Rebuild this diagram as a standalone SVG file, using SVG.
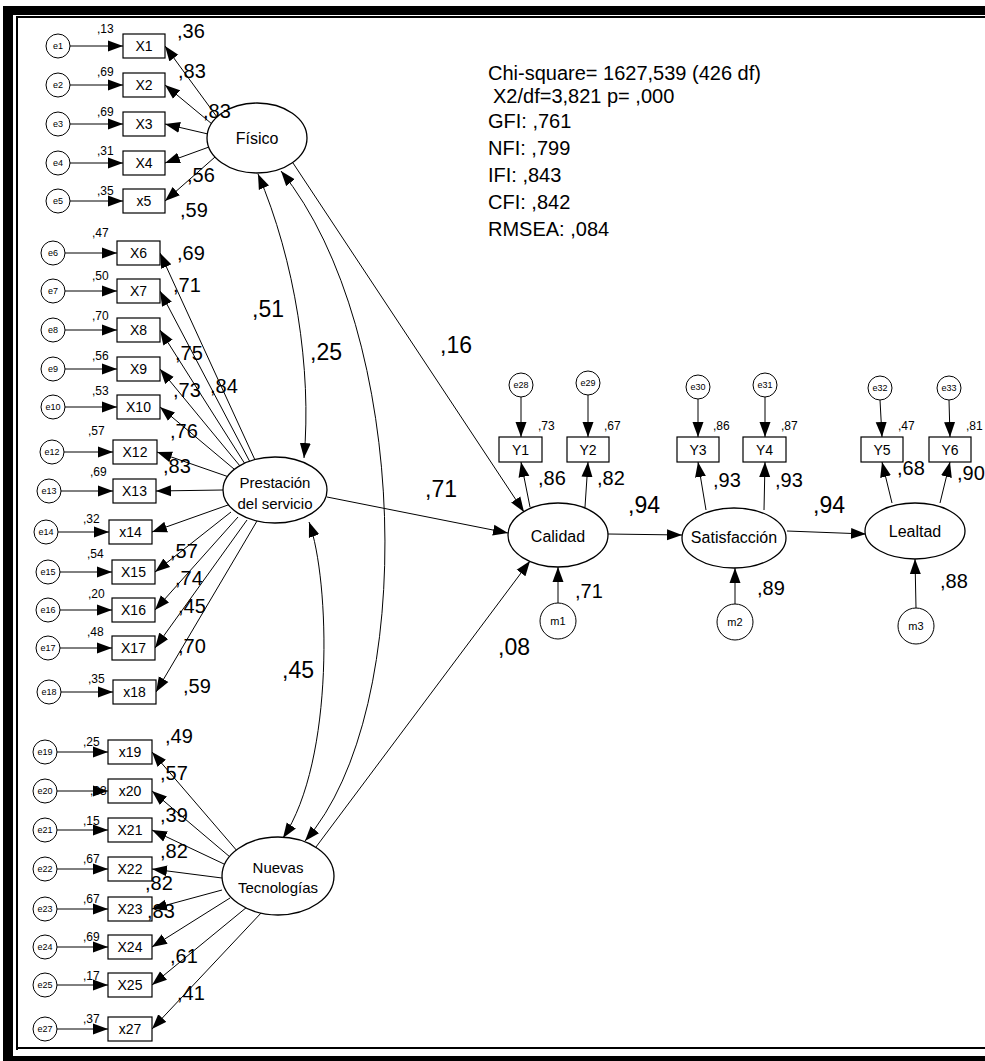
<svg xmlns="http://www.w3.org/2000/svg" width="985" height="1061" viewBox="0 0 985 1061">
<defs>
<style>
text{font-family:"Liberation Sans",Arial,sans-serif;fill:#000}
.e{fill:#fff;stroke:#000;stroke-width:1}
.box{fill:#fff;stroke:#000;stroke-width:1.2}
.lat{fill:#fff;stroke:#000;stroke-width:1.3}
.et{font-size:9px;text-anchor:middle}
.bt{font-size:14px;text-anchor:middle}
.lt{font-size:16px;text-anchor:middle}
.lt2{font-size:15px;text-anchor:middle}
.mt{font-size:11px;text-anchor:middle}
.sm{font-size:12px}
.lg{font-size:20px}
.xl{font-size:23px}
.fit{font-size:20px}
.ln{fill:none;stroke:#000;stroke-width:1;marker-end:url(#ah)}
.cv{fill:none;stroke:#000;stroke-width:1;marker-end:url(#ah);marker-start:url(#ahs)}
</style>
<marker id="ah" markerUnits="userSpaceOnUse" markerWidth="15" markerHeight="12" refX="15" refY="6" orient="auto">
<path d="M0,0.5 L15,6 L0,11.5 z" fill="#000"/>
</marker>
<marker id="ahs" markerUnits="userSpaceOnUse" markerWidth="15" markerHeight="12" refX="15" refY="6" orient="auto-start-reverse">
<path d="M0,0.5 L15,6 L0,11.5 z" fill="#000"/>
</marker>
</defs>
<rect width="985" height="1061" fill="#fff"/>
<!-- frame -->
<g id="frame" fill="#000">
<rect x="3" y="6" width="982" height="9"/>
<rect x="3" y="6" width="10" height="1055"/>
<rect x="3" y="1056" width="982" height="5"/>
<rect x="16" y="16" width="969" height="2"/>
<rect x="16" y="16" width="2" height="1034"/>
<rect x="16" y="1047" width="969" height="2"/>
</g>

<!-- connectors -->
<g id="connectors">
<!-- error terms to indicators -->
<path class="ln" d="M70,46 H123"/>
<path class="ln" d="M70,85 H123"/>
<path class="ln" d="M70,124 H123"/>
<path class="ln" d="M70,163 H123"/>
<path class="ln" d="M70,201 H123"/>
<path class="ln" d="M65,253 H117"/>
<path class="ln" d="M65,291 H117"/>
<path class="ln" d="M65,330 H117"/>
<path class="ln" d="M65,369 H117"/>
<path class="ln" d="M65,407 H117"/>
<path class="ln" d="M64,452 H113"/>
<path class="ln" d="M61,491 H113"/>
<path class="ln" d="M58,532 H109"/>
<path class="ln" d="M60,572 H112"/>
<path class="ln" d="M60,610 H112"/>
<path class="ln" d="M60,648 H112"/>
<path class="ln" d="M61,692 H113"/>
<path class="ln" d="M57,752 H108"/>
<path class="ln" d="M57,791 H108"/>
<path class="ln" d="M57,830 H108"/>
<path class="ln" d="M57,869 H108"/>
<path class="ln" d="M57,909 H108"/>
<path class="ln" d="M57,947 H108"/>
<path class="ln" d="M57,985 H108"/>
<path class="ln" d="M57,1029 H108"/>
<!-- Físico loadings -->
<path class="ln" d="M217,117 L165,46"/>
<path class="ln" d="M212,124 L165,85"/>
<path class="ln" d="M208,134 L165,124"/>
<path class="ln" d="M209,147 L165,163"/>
<path class="ln" d="M215,157 L165,201"/>
<!-- Prestación loadings -->
<path class="ln" d="M255,460 L160,253"/>
<path class="ln" d="M250,462 L160,291"/>
<path class="ln" d="M245,464 L160,330"/>
<path class="ln" d="M240,466 L160,369"/>
<path class="ln" d="M234,469 L160,407"/>
<path class="ln" d="M229,477 L157,452"/>
<path class="ln" d="M223,490 L156,491"/>
<path class="ln" d="M228,505 L152,532"/>
<path class="ln" d="M231,512 L155,572"/>
<path class="ln" d="M238,517 L155,610"/>
<path class="ln" d="M247,520 L155,648"/>
<path class="ln" d="M257,521 L156,692"/>
<!-- Nuevas Tecnologías loadings -->
<path class="ln" d="M238,852 L152,752"/>
<path class="ln" d="M230,857 L152,791"/>
<path class="ln" d="M224,864 L152,830"/>
<path class="ln" d="M222,878 L152,869"/>
<path class="ln" d="M222,890 L152,909"/>
<path class="ln" d="M230,898 L152,947"/>
<path class="ln" d="M247,907 L152,985"/>
<path class="ln" d="M262,912 L152,1029"/>
<!-- covariances -->
<path class="cv" d="M258,174 C295,260 312,370 304,458"/>
<path class="cv" d="M281,171 C410,330 420,710 305,841"/>
<path class="cv" d="M309,522 C330,580 335,760 283,838"/>
<!-- structural paths -->
<path class="ln" d="M293,163 L524,512"/>
<path class="ln" d="M327,497 L508,533"/>
<path class="ln" d="M316,847 L530,561"/>
<path class="ln" d="M608,534 L682,535"/>
<path class="ln" d="M787,531 L866,534"/>
<!-- disturbances -->
<path class="ln" d="M558,603 L558,567"/>
<path class="ln" d="M735,604 L735,568"/>
<path class="ln" d="M916,608 L915,559"/>
<!-- endogenous indicators -->
<path class="ln" d="M530,507 L521,462"/>
<path class="ln" d="M585,507 L588,462"/>
<path class="ln" d="M706,510 L698,462"/>
<path class="ln" d="M764,510 L765,462"/>
<path class="ln" d="M892,503 L882,462"/>
<path class="ln" d="M940,503 L950,462"/>
<path class="ln" d="M521,397 L521,437"/>
<path class="ln" d="M588,395 L588,437"/>
<path class="ln" d="M698,399 L698,437"/>
<path class="ln" d="M765,397 L765,437"/>
<path class="ln" d="M880,400 L882,437"/>
<path class="ln" d="M949,400 L950,437"/>
</g>

<!-- error terms -->
<g id="e1"><circle class="e" cx="58" cy="46" r="12"/><text class="et" x="58" y="49">e1</text></g>
<g id="e2"><circle class="e" cx="58" cy="85" r="12"/><text class="et" x="58" y="88">e2</text></g>
<g id="e3"><circle class="e" cx="58" cy="124" r="12"/><text class="et" x="58" y="127">e3</text></g>
<g id="e4"><circle class="e" cx="58" cy="163" r="12"/><text class="et" x="58" y="166">e4</text></g>
<g id="e5"><circle class="e" cx="58" cy="201" r="12"/><text class="et" x="58" y="204">e5</text></g>
<g id="e6"><circle class="e" cx="53" cy="253" r="12"/><text class="et" x="53" y="256">e6</text></g>
<g id="e7"><circle class="e" cx="53" cy="291" r="12"/><text class="et" x="53" y="294">e7</text></g>
<g id="e8"><circle class="e" cx="53" cy="330" r="12"/><text class="et" x="53" y="333">e8</text></g>
<g id="e9"><circle class="e" cx="53" cy="369" r="12"/><text class="et" x="53" y="372">e9</text></g>
<g id="e10"><circle class="e" cx="53" cy="407" r="12"/><text class="et" x="53" y="410">e10</text></g>
<g id="e12"><circle class="e" cx="52" cy="452" r="12"/><text class="et" x="52" y="455">e12</text></g>
<g id="e13"><circle class="e" cx="49" cy="491" r="12"/><text class="et" x="49" y="494">e13</text></g>
<g id="e14"><circle class="e" cx="46" cy="532" r="12"/><text class="et" x="46" y="535">e14</text></g>
<g id="e15"><circle class="e" cx="48" cy="572" r="12"/><text class="et" x="48" y="575">e15</text></g>
<g id="e16"><circle class="e" cx="48" cy="610" r="12"/><text class="et" x="48" y="613">e16</text></g>
<g id="e17"><circle class="e" cx="48" cy="648" r="12"/><text class="et" x="48" y="651">e17</text></g>
<g id="e18"><circle class="e" cx="49" cy="692" r="12"/><text class="et" x="49" y="695">e18</text></g>
<g id="e19"><circle class="e" cx="45" cy="752" r="12"/><text class="et" x="45" y="755">e19</text></g>
<g id="e20"><circle class="e" cx="45" cy="791" r="12"/><text class="et" x="45" y="794">e20</text></g>
<g id="e21"><circle class="e" cx="45" cy="830" r="12"/><text class="et" x="45" y="833">e21</text></g>
<g id="e22"><circle class="e" cx="45" cy="869" r="12"/><text class="et" x="45" y="872">e22</text></g>
<g id="e23"><circle class="e" cx="45" cy="909" r="12"/><text class="et" x="45" y="912">e23</text></g>
<g id="e24"><circle class="e" cx="45" cy="947" r="12"/><text class="et" x="45" y="950">e24</text></g>
<g id="e25"><circle class="e" cx="45" cy="985" r="12"/><text class="et" x="45" y="988">e25</text></g>
<g id="e27"><circle class="e" cx="45" cy="1029" r="12"/><text class="et" x="45" y="1032">e27</text></g>
<g id="e28"><circle class="e" cx="521" cy="385" r="12"/><text class="et" x="521" y="388">e28</text></g>
<g id="e29"><circle class="e" cx="588" cy="383" r="12"/><text class="et" x="588" y="386">e29</text></g>
<g id="e30"><circle class="e" cx="698" cy="387" r="12"/><text class="et" x="698" y="390">e30</text></g>
<g id="e31"><circle class="e" cx="765" cy="385" r="12"/><text class="et" x="765" y="388">e31</text></g>
<g id="e32"><circle class="e" cx="880" cy="388" r="12"/><text class="et" x="880" y="391">e32</text></g>
<g id="e33"><circle class="e" cx="949" cy="388" r="12"/><text class="et" x="949" y="391">e33</text></g>

<!-- disturbances -->
<g id="m1"><circle class="e" cx="558" cy="621" r="18"/><text class="mt" x="558" y="625">m1</text></g>
<g id="m2"><circle class="e" cx="735" cy="622" r="18"/><text class="mt" x="735" y="626">m2</text></g>
<g id="m3"><circle class="e" cx="916" cy="626" r="18"/><text class="mt" x="916" y="630">m3</text></g>

<!-- observed indicators -->
<g id="X1"><rect class="box" x="123" y="34" width="42" height="24"/><text class="bt" x="144" y="51">X1</text></g>
<g id="X2"><rect class="box" x="123" y="73" width="42" height="24"/><text class="bt" x="144" y="90">X2</text></g>
<g id="X3"><rect class="box" x="123" y="112" width="42" height="24"/><text class="bt" x="144" y="129">X3</text></g>
<g id="X4"><rect class="box" x="123" y="151" width="42" height="24"/><text class="bt" x="144" y="168">X4</text></g>
<g id="x5"><rect class="box" x="123" y="189" width="42" height="24"/><text class="bt" x="144" y="206">x5</text></g>
<g id="X6"><rect class="box" x="117" y="241" width="43" height="24"/><text class="bt" x="138.5" y="258">X6</text></g>
<g id="X7"><rect class="box" x="117" y="279" width="43" height="24"/><text class="bt" x="138.5" y="296">X7</text></g>
<g id="X8"><rect class="box" x="117" y="318" width="43" height="24"/><text class="bt" x="138.5" y="335">X8</text></g>
<g id="X9"><rect class="box" x="117" y="357" width="43" height="24"/><text class="bt" x="138.5" y="374">X9</text></g>
<g id="X10"><rect class="box" x="117" y="395" width="43" height="24"/><text class="bt" x="138.5" y="412">X10</text></g>
<g id="X12"><rect class="box" x="113" y="440" width="44" height="24"/><text class="bt" x="135" y="457">X12</text></g>
<g id="X13"><rect class="box" x="113" y="479" width="43" height="24"/><text class="bt" x="134.5" y="496">X13</text></g>
<g id="x14"><rect class="box" x="109" y="520" width="43" height="24"/><text class="bt" x="130.5" y="537">x14</text></g>
<g id="X15"><rect class="box" x="112" y="560" width="43" height="24"/><text class="bt" x="133.5" y="577">X15</text></g>
<g id="X16"><rect class="box" x="112" y="598" width="43" height="24"/><text class="bt" x="133.5" y="615">X16</text></g>
<g id="X17"><rect class="box" x="112" y="636" width="43" height="24"/><text class="bt" x="133.5" y="653">X17</text></g>
<g id="x18"><rect class="box" x="113" y="680" width="43" height="24"/><text class="bt" x="134.5" y="697">x18</text></g>
<g id="x19"><rect class="box" x="108" y="740" width="44" height="24"/><text class="bt" x="130" y="757">x19</text></g>
<g id="x20"><rect class="box" x="108" y="779" width="44" height="24"/><text class="bt" x="130" y="796">x20</text></g>
<g id="X21"><rect class="box" x="108" y="818" width="44" height="24"/><text class="bt" x="130" y="835">X21</text></g>
<g id="X22"><rect class="box" x="108" y="857" width="44" height="24"/><text class="bt" x="130" y="874">X22</text></g>
<g id="X23"><rect class="box" x="108" y="897" width="44" height="24"/><text class="bt" x="130" y="914">X23</text></g>
<g id="X24"><rect class="box" x="108" y="935" width="44" height="24"/><text class="bt" x="130" y="952">X24</text></g>
<g id="X25"><rect class="box" x="108" y="973" width="44" height="24"/><text class="bt" x="130" y="990">X25</text></g>
<g id="x27"><rect class="box" x="108" y="1017" width="44" height="24"/><text class="bt" x="130" y="1034">x27</text></g>
<g id="Y1"><rect class="box" x="499" y="437" width="43" height="25"/><text class="bt" x="520.5" y="455">Y1</text></g>
<g id="Y2"><rect class="box" x="567" y="437" width="42" height="25"/><text class="bt" x="588" y="455">Y2</text></g>
<g id="Y3"><rect class="box" x="677" y="437" width="42" height="25"/><text class="bt" x="698" y="455">Y3</text></g>
<g id="Y4"><rect class="box" x="743" y="437" width="43" height="25"/><text class="bt" x="764.5" y="455">Y4</text></g>
<g id="Y5"><rect class="box" x="861" y="437" width="42" height="25"/><text class="bt" x="882" y="455">Y5</text></g>
<g id="Y6"><rect class="box" x="929" y="437" width="42" height="25"/><text class="bt" x="950" y="455">Y6</text></g>

<!-- latent constructs -->
<g id="Fisico"><ellipse class="lat" cx="257" cy="138" rx="50" ry="35"/><text class="lt" x="257" y="144">Físico</text></g>
<g id="Prestacion"><ellipse class="lat" cx="275" cy="490" rx="52" ry="33"/><text class="lt2" x="275" y="488">Prestación</text><text class="lt2" x="275" y="509">del servicio</text></g>
<g id="Nuevas"><ellipse class="lat" cx="278" cy="876" rx="56" ry="39"/><text class="lt2" x="278" y="873">Nuevas</text><text class="lt2" x="278" y="893">Tecnologías</text></g>
<g id="Calidad"><ellipse class="lat" cx="558" cy="535" rx="50" ry="32"/><text class="lt" x="558" y="542">Calidad</text></g>
<g id="Satisfaccion"><ellipse class="lat" cx="734" cy="538" rx="52" ry="30"/><text class="lt" x="734" y="543">Satisfacción</text></g>
<g id="Lealtad"><ellipse class="lat" cx="915" cy="531" rx="50" ry="28"/><text class="lt" x="915" y="537">Lealtad</text></g>

<!-- squared multiple correlations -->
<g id="r2" class="sm">
<text x="97" y="33">,13</text>
<text x="97" y="76">,69</text>
<text x="97" y="116">,69</text>
<text x="97" y="155">,31</text>
<text x="97" y="195">,35</text>
<text x="92" y="237">,47</text>
<text x="92" y="280">,50</text>
<text x="92" y="320">,70</text>
<text x="92" y="360">,56</text>
<text x="92" y="395">,53</text>
<text x="88" y="435">,57</text>
<text x="90" y="476">,69</text>
<text x="83" y="523">,32</text>
<text x="87" y="558">,54</text>
<text x="88" y="598">,20</text>
<text x="87" y="636">,48</text>
<text x="88" y="683">,35</text>
<text x="83" y="746">,25</text>
<text x="90" y="795">,33</text>
<text x="83" y="825">,15</text>
<text x="83" y="863">,67</text>
<text x="83" y="903">,67</text>
<text x="83" y="941">,69</text>
<text x="83" y="980">,17</text>
<text x="83" y="1023">,37</text>
<text x="538" y="430">,73</text>
<text x="604" y="430">,67</text>
<text x="713" y="430">,86</text>
<text x="781" y="430">,87</text>
<text x="898" y="430">,47</text>
<text x="966" y="430">,81</text>
</g>

<!-- loadings -->
<g id="loadings" class="lg">
<text x="177" y="38">,36</text>
<text x="178" y="78">,83</text>
<text x="203" y="118">,83</text>
<text x="187" y="182">,56</text>
<text x="180" y="217">,59</text>
<text x="177" y="260">,69</text>
<text x="173" y="292">,71</text>
<text x="175" y="360">,75</text>
<text x="210" y="393">,84</text>
<text x="173" y="397">,73</text>
<text x="170" y="438">,76</text>
<text x="163" y="473">,83</text>
<text x="170" y="558">,57</text>
<text x="175" y="585">,74</text>
<text x="178" y="613">,45</text>
<text x="178" y="653">,70</text>
<text x="183" y="693">,59</text>
<text x="165" y="743">,49</text>
<text x="160" y="780">,57</text>
<text x="160" y="822">,39</text>
<text x="160" y="858">,82</text>
<text x="145" y="890">,82</text>
<text x="147" y="918">,83</text>
<text x="170" y="963">,61</text>
<text x="177" y="1000">,41</text>
<text x="538" y="485">,86</text>
<text x="597" y="485">,82</text>
<text x="713" y="487">,93</text>
<text x="775" y="487">,93</text>
<text x="897" y="475">,68</text>
<text x="957" y="480">,90</text>
<text x="575" y="598">,71</text>
<text x="757" y="595">,89</text>
<text x="940" y="588">,88</text>
</g>

<!-- correlations and regression weights -->
<g id="paths" class="xl">
<text x="252" y="317">,51</text>
<text x="310" y="360">,25</text>
<text x="282" y="678">,45</text>
<text x="440" y="353">,16</text>
<text x="425" y="497">,71</text>
<text x="498" y="655">,08</text>
<text x="628" y="513">,94</text>
<text x="813" y="513">,94</text>
</g>

<!-- fit indices -->
<g id="fit" class="fit">
<text x="488" y="80">Chi-square= 1627,539 (426 df)</text>
<text x="493" y="103">X2/df=3,821 p= ,000</text>
<text x="488" y="128">GFI: ,761</text>
<text x="488" y="155">NFI: ,799</text>
<text x="488" y="182">IFI: ,843</text>
<text x="488" y="209">CFI: ,842</text>
<text x="488" y="236">RMSEA: ,084</text>
</g>
</svg>
